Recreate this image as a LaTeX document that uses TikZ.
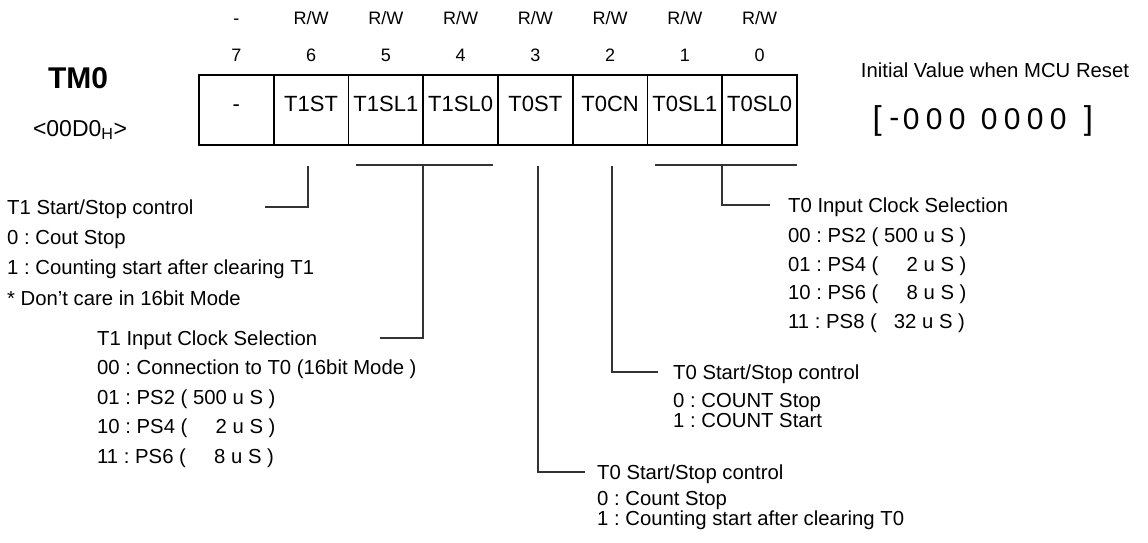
\documentclass[tikz,border=0pt]{standalone}
\usepackage{fontspec}
\setmainfont{Liberation Sans}
\usetikzlibrary{positioning}
\newcommand{\dg}[2][23pt]{\makebox[#1]{#2}}
\frenchspacing

\begin{document}
\begin{tikzpicture}[
        x=1pt, y=-1pt,
        node distance=0pt,
        cell/.style={draw, line width=1.6pt, minimum width=74.75pt, minimum height=70pt, inner sep=0pt, outer sep=0pt,
            font=\fontsize{22}{22}\selectfont, text height=14pt, text depth=11pt},
        bitno/.style={inner sep=0pt, font=\fontsize{18}{18}\selectfont, text height=13pt, text depth=0pt},
        head/.style={anchor=west, inner sep=0pt, font=\fontsize{20.3}{20}\selectfont, text height=14.4pt, text depth=0pt},
        list/.style={inner sep=0pt, align=left},
        leader/.style={line width=1.2pt, black!80}
    ]
    \useasboundingbox (0,0) rectangle (1148,543);

    % register name
    \node[font=\fontsize{30}{30}\bfseries\selectfont, inner sep=0pt] (tm0) at (78,78) {TM0};
    \node[font=\fontsize{23}{23}\selectfont, inner sep=0pt] (addr) at (80,130) {<00D0\textsubscript{H}>};

    % bit cells
    \node[cell] (b7) at (236.375,110) {-};
    \node[cell, right=of b7] (b6) {T1ST};
    \node[cell, right=of b6] (b5) {T1SL1};
    \node[cell, right=of b5] (b4) {T1SL0};
    \node[cell, right=of b4] (b3) {T0ST};
    \node[cell, right=of b3] (b2) {T0CN};
    \node[cell, right=of b2] (b1) {T0SL1};
    \node[cell, right=of b1] (b0) {T0SL0};

    % bit numbers and access
    \node[bitno, above=13pt of b7] (n7) {7};
    \node[bitno, above=13pt of b6] (n6) {6};
    \node[bitno, above=13pt of b5] (n5) {5};
    \node[bitno, above=13pt of b4] (n4) {4};
    \node[bitno, above=13pt of b3] (n3) {3};
    \node[bitno, above=13pt of b2] (n2) {2};
    \node[bitno, above=13pt of b1] (n1) {1};
    \node[bitno, above=13pt of b0] (n0) {0};
    \node[bitno, above=23.5pt of n7] (a7) {-};
    \node[bitno, above=23.5pt of n6] (a6) {R/W};
    \node[bitno, above=23.5pt of n5] (a5) {R/W};
    \node[bitno, above=23.5pt of n4] (a4) {R/W};
    \node[bitno, above=23.5pt of n3] (a3) {R/W};
    \node[bitno, above=23.5pt of n2] (a2) {R/W};
    \node[bitno, above=23.5pt of n1] (a1) {R/W};
    \node[bitno, above=23.5pt of n0] (a0) {R/W};

    % reset value
    \node[head, anchor=center] (init) at (995,70) {Initial Value when MCU Reset};
    \node[inner sep=0pt, font=\fontsize{30}{30}\selectfont, text height=21pt, text depth=0pt] (rst) at (982.8,119)
        {{\fontsize{33}{33}\selectfont[}\kern7pt\dg[11pt]{\raisebox{2pt}{-}}\dg{0}\dg{0}\dg{0}\kern9pt\dg{0}\dg{0}\dg{0}\dg{0}\kern14pt{\fontsize{33}{33}\selectfont]}};

    % descriptions
    \node[head] (t1stHead) at (7,207) {T1 Start/Stop control};
    \node[list, font=\fontsize{20.3}{30.5}\selectfont, below=15.4pt of t1stHead.south west, anchor=north west] (t1stList)
        {0 : Cout Stop\\1 : Counting start after clearing T1\\* Don't care in 16bit Mode};
    \node[head] (t1slHead) at (97,338) {T1 Input Clock Selection};
    \node[list, font=\fontsize{20.3}{29.5}\selectfont, below=14.4pt of t1slHead.south west, anchor=north west] (t1slList)
        {00 : Connection to T0 (16bit Mode )\\01 : PS2 ( 500 u S )\\10 : PS4 ( \phantom{50}2 u S )\\11 : PS6 ( \phantom{50}8 u S )};
    \node[head] (t0slHead) at (788,205) {T0 Input Clock Selection};
    \node[list, font=\fontsize{20.3}{28.5}\selectfont, below=15.4pt of t0slHead.south west, anchor=north west] (t0slList)
        {00 : PS2 ( 500 u S )\\01 : PS4 ( \phantom{50}2 u S )\\10 : PS6 ( \phantom{50}8 u S )\\11 : PS8 ( \phantom{5}32 u S )};
    \node[head] (t0cnHead) at (673,372) {T0 Start/Stop control};
    \node[list, font=\fontsize{20.3}{20}\selectfont, below=13.4pt of t0cnHead.south west, anchor=north west] (t0cnList)
        {0 : COUNT Stop\\1 : COUNT Start};
    \node[head] (t0stHead) at (597,472) {T0 Start/Stop control};
    \node[list, font=\fontsize{20.3}{20}\selectfont, below=11.4pt of t0stHead.south west, anchor=north west] (t0stList)
        {0 : Count Stop\\1 : Counting start after clearing T0};

    % leader lines
    \coordinate (c6) at (308,166);
    \coordinate (e6) at (265,207);
    \coordinate (k5) at (356,165);
    \coordinate (k4) at (493,165);
    \coordinate (c54) at (423,165);
    \coordinate (e54) at (380,338);
    \coordinate (c3) at (538,166);
    \coordinate (c2) at (612,166);
    \coordinate (k1) at (655,165);
    \coordinate (k0) at (797,165);
    \coordinate (c10) at (722,165);
    \draw[leader] (c6) |- (e6);
    \draw[leader] (k5) -- (k4);
    \draw[leader] (c54) |- (e54);
    \draw[leader] (c3) |- ([xshift=-12pt]t0stHead.west);
    \draw[leader] (c2) |- ([xshift=-15pt]t0cnHead.west);
    \draw[leader] (k1) -- (k0);
    \draw[leader] (c10) |- ([xshift=-18pt]t0slHead.west);
\end{tikzpicture}
\end{document}
